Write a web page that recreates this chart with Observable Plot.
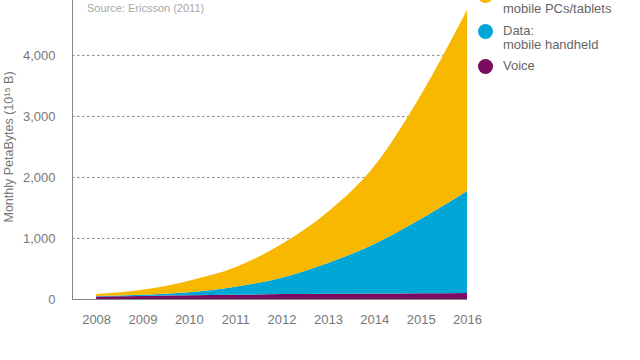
<!DOCTYPE html>
<html>
<head>
<meta charset="utf-8">
<script src="https://cdn.jsdelivr.net/npm/d3@7"></script>
<script src="https://cdn.jsdelivr.net/npm/@observablehq/plot@0.6"></script>
<style>
  html, body { margin: 0; padding: 0; background: #fff; }
  #wrap { position: relative; width: 640px; height: 360px; overflow: hidden; font-family: "Liberation Sans", Arial, sans-serif; }
  #chart { position: absolute; left: 0; top: 0; }
  .src { position: absolute; left: 87px; top: 2px; font-size: 11px; color: #a8a8a8; }
  .leg { position: absolute; left: 478px; font-size: 13px; color: #666; line-height: 14px; }
  .leg .dot { position: absolute; left: 0; width: 15px; height: 15px; border-radius: 50%; }
  .leg .txt { position: absolute; left: 25px; white-space: nowrap; }
</style>
</head>
<body>
<div id="wrap">
  <div id="chart"></div>
  <div class="src">Source: Ericsson (2011)</div>
  <div id="legend"></div>
</div>
<script>
const years = [2008, 2009, 2010, 2011, 2012, 2013, 2014, 2015, 2016];
const voice = [40, 50, 60, 70, 80, 85, 90, 95, 100];
const dataHandheld = [10, 20, 50, 130, 270, 505, 810, 1215, 1670];
const dataPCs = [30, 80, 190, 320, 550, 840, 1280, 2030, 2970];
const seriesNames = ["Voice", "Data: mobile handheld", "Data: mobile PCs/tablets"];
const seriesColors = ["#7a0b5f", "#00a6d5", "#f9b800"];
const yTicks = [0, 1000, 2000, 3000, 4000];
const gridTicks = [1000, 2000, 3000, 4000];
const yLabel = "Monthly PetaBytes (10¹⁵ B)";

const rows = [];
years.forEach((yr, i) => {
  rows.push({year: yr, series: seriesNames[0], value: voice[i]});
  rows.push({year: yr, series: seriesNames[1], value: dataHandheld[i]});
  rows.push({year: yr, series: seriesNames[2], value: dataPCs[i]});
});

const chart = Plot.plot({
  width: 640,
  height: 360,
  marginLeft: 72,
  marginRight: 173,
  marginTop: 0,
  marginBottom: 61,
  style: {fontFamily: "Liberation Sans, Arial, sans-serif", fontSize: "13px", color: "#777", background: "transparent"},
  x: {domain: [2007.48, 2016], axis: null},
  y: {domain: [0, 4900], axis: null},
  color: {domain: seriesNames, range: seriesColors},
  marks: [
    Plot.ruleY(gridTicks, {stroke: "#8a8a8a", strokeDasharray: "2.5,2.5", strokeWidth: 1}),
    Plot.areaY(rows, {x: "year", y: "value", fill: "series", z: "series", order: seriesNames, curve: "monotone-x"}),
    Plot.ruleY([0], {stroke: "#888", strokeWidth: 1}),
    Plot.ruleX([2007.48], {stroke: "#888", strokeWidth: 1}),
    Plot.axisY(yTicks, {tickFormat: d3.format(","), tickSize: 0, tickPadding: 17, label: null, fontSize: 13, color: "#777"}),
    Plot.axisX(years, {tickFormat: d => String(d), tickSize: 0, tickPadding: 15, label: null, fontSize: 13, color: "#777"}),
    Plot.text([yLabel], {frameAnchor: "left", textAnchor: "middle", dx: -64, dy: -3, rotate: -90, fontSize: 12.5, fill: "#777"})
  ]
});
document.getElementById("chart").appendChild(chart);

// Legend (top item is cut by the picture's top edge, as in the reference)
const legendItems = [
  {name: ["mobile PCs/tablets"], color: seriesColors[2], top: 2, dotTop: -14},
  {name: ["Data:", "mobile handheld"], color: seriesColors[1], top: 24, dotTop: 0},
  {name: ["Voice"], color: seriesColors[0], top: 59, dotTop: 0}
];
const legend = document.getElementById("legend");
legendItems.forEach(it => {
  const d = document.createElement("div");
  d.className = "leg";
  d.style.top = it.top + "px";
  d.innerHTML = `<div class="dot" style="background:${it.color};top:${it.dotTop}px"></div><div class="txt">${it.name.join("<br>")}</div>`;
  legend.appendChild(d);
});
</script>
</body>
</html>
